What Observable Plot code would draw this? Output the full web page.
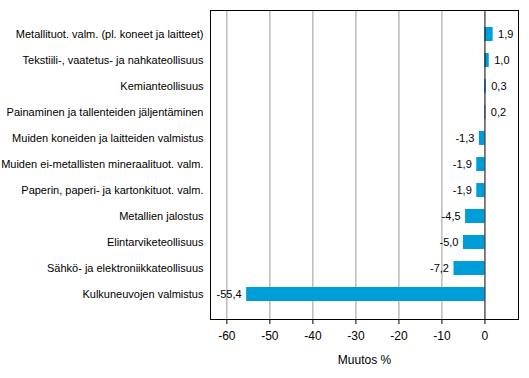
<!DOCTYPE html>
<html>
<head>
<meta charset="utf-8">
<script src="https://cdn.jsdelivr.net/npm/d3@7"></script>
<script src="https://cdn.jsdelivr.net/npm/@observablehq/plot@0.6"></script>
<style>
  html, body { margin: 0; padding: 0; background: #fff; }
  #chart svg { display: block; }
</style>
</head>
<body>
<div id="chart"></div>
<script>
const categories = [
  "Metallituot. valm. (pl. koneet ja laitteet)",
  "Tekstiili-, vaatetus- ja nahkateollisuus",
  "Kemianteollisuus",
  "Painaminen ja tallenteiden jäljentäminen",
  "Muiden koneiden ja laitteiden valmistus",
  "Muiden ei-metallisten mineraalituot. valm.",
  "Paperin, paperi- ja kartonkituot. valm.",
  "Metallien jalostus",
  "Elintarviketeollisuus",
  "Sähkö- ja elektroniikkateollisuus",
  "Kulkuneuvojen valmistus"
];
const values = [1.9, 1.0, 0.3, 0.2, -1.3, -1.9, -1.9, -4.5, -5.0, -7.2, -55.4];
const xTicks = [-60, -50, -40, -30, -20, -10, 0];
const gridTicks = [-60, -50, -40, -30, -20, -10];

const data = categories.map((c, i) => ({category: c, value: values[i]}));
const fmt = v => d3.format(".1f")(v).replace(".", ",").replace("−", "-");

const chart = Plot.plot({
  width: 529,
  height: 378,
  marginLeft: 210,
  marginRight: 11,
  marginTop: 10,
  marginBottom: 59,
  style: {fontFamily: "Arial, 'Liberation Sans', sans-serif", fontSize: "11px", color: "#000", background: "#fff"},
  x: {domain: [-63.8, 7.8], ticks: xTicks},
  y: {domain: categories, padding: 0.46},
  marks: [
    Plot.ruleX(gridTicks, {stroke: "#999", strokeWidth: 1}),
    Plot.barX(data, {x: "value", y: "category", fill: "#009ed9"}),
    Plot.ruleX([0], {stroke: "#000", strokeWidth: 1}),
    Plot.frame({stroke: "#000", strokeWidth: 1}),
    Plot.text(data.filter(d => d.value >= 0), {x: "value", y: "category", text: d => fmt(d.value), textAnchor: "start", dx: 5, fill: "#000", fontSize: 11}),
    Plot.text(data.filter(d => d.value < 0), {x: "value", y: "category", text: d => fmt(d.value), textAnchor: "end", dx: -5, fill: "#000", fontSize: 11}),
    Plot.axisX(xTicks, {tickSize: 5, tickPadding: 7, tickFormat: d => String(d), label: "Muutos %", labelAnchor: "center", labelArrow: "none", labelOffset: 44, fontSize: 12}),
    Plot.axisY({tickSize: 0, tickPadding: 7, label: null, fontSize: 11})
  ]
});
document.getElementById("chart").appendChild(chart);
</script>
</body>
</html>
